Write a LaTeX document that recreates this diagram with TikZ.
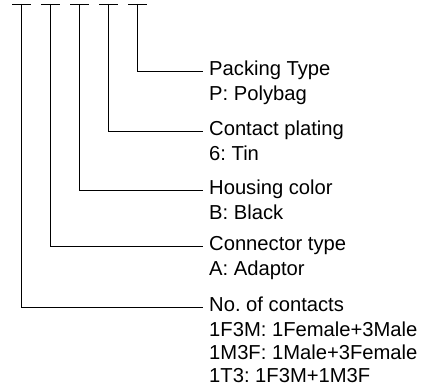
\documentclass[tikz,border=0pt]{standalone}
\usepackage{fontspec}
\setmainfont{Liberation Sans}
\usetikzlibrary{positioning}
\tikzset{
  lead/.style={draw=black, line width=0.8pt},
  title/.style={inner xsep=6pt, inner ysep=0pt, text height=15pt, text depth=5pt, anchor=west},
  detail/.style={inner xsep=6pt, inner ysep=0pt, align=left},
}
\frenchspacing

\begin{document}
\begin{tikzpicture}[x=1pt, y=-1pt, font=\fontsize{20.2}{23}\selectfont]
  \useasboundingbox (0,0) rectangle (426,390);

  % top ticks
  \coordinate (t1) at (21.5,4);
  \coordinate (t2) at (50.5,4);
  \coordinate (t3) at (79.5,4);
  \coordinate (t4) at (108.5,4);
  \coordinate (t5) at (137.5,4);
  \foreach \i in {1,...,5}
    \draw[lead] ([xshift=-9.5pt]t\i) -- ([xshift=9.5pt]t\i);

  % labels
  \node[title] (packing) at (203,71) {Packing Type};
  \node[detail, below=4pt of packing.south west, anchor=north west] (packingd) {P: Polybag};

  \node[title] (plating) at (203,131) {Contact plating};
  \node[detail, below=4pt of plating.south west, anchor=north west] (platingd) {6: Tin};

  \node[title] (color) at (203,190) {Housing color};
  \node[detail, below=4pt of color.south west, anchor=north west] (colord) {B: Black};

  \node[title] (conntype) at (203,246) {Connector type};
  \node[detail, below=4pt of conntype.south west, anchor=north west] (conntyped) {A: Adaptor};

  \node[title] (contacts) at (203,307) {No. of contacts};
  \node[detail, below=4pt of contacts.south west, anchor=north west] (contactsd)
    {1F3M: 1Female+3Male\\1M3F: 1Male+3Female\\1T3: 1F3M+1M3F};

  % leads
  \draw[lead] (t5) |- (packing.west);
  \draw[lead] (t4) |- (plating.west);
  \draw[lead] (t3) |- (color.west);
  \draw[lead] (t2) |- (conntype.west);
  \draw[lead] (t1) |- (contacts.west);
\end{tikzpicture}
\end{document}
